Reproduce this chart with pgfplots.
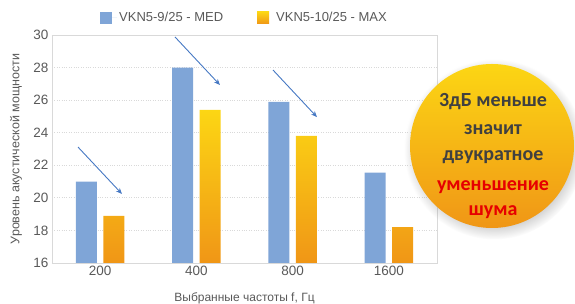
\documentclass[border=0pt]{standalone}
\usepackage{pgfplots}
\pgfplotsset{compat=1.18}
\usepackage{fontspec}
\setmainfont{Liberation Sans}
\newfontfamily\carlito{Carlito}
\usetikzlibrary{shadows,arrows.meta}
\definecolor{barblue}{RGB}{127,165,215}
\definecolor{ytop}{RGB}{252,214,20}
\definecolor{ybot}{RGB}{240,150,22}
\definecolor{arrowblue}{RGB}{70,120,195}
\definecolor{txtgray}{RGB}{89,89,89}
\definecolor{gridgray}{RGB}{217,217,217}
\definecolor{circtxt}{RGB}{64,64,64}
\definecolor{circred}{RGB}{230,0,0}
\begin{document}
\begin{tikzpicture}
\useasboundingbox (-52pt,-41pt) rectangle (523pt,263pt);
\begin{axis}[
  at={(0pt,0pt)}, anchor=south west,
  scale only axis, width=385pt, height=228pt,
  ybar=6.5pt, bar width=21pt,
  xmin=-0.5, xmax=3.5, ymin=0, ymax=14,
  y filter/.expression={y-16},
  xtick={0,1,2,3}, xticklabels={200,400,800,1600},
  ytick={0,2,...,14}, yticklabels={16,18,20,22,24,26,28,30},
  major tick length=0pt,
  ymajorgrids, grid style={gridgray, dotted, line width=0.8pt},
  axis line style={gridgray},
  tick label style={font=\fontsize{13.5}{15}\selectfont, text=txtgray},
  /pgf/number format/assume math mode=true,
  xlabel={Выбранные частоты f, Гц},
  ylabel={Уровень акустической мощности},
  xlabel style={at={(axis description cs:0.5,-0.154)}, anchor=center, font=\fontsize{12}{14}\selectfont, text=txtgray},
  ylabel style={at={(axis description cs:-0.0935,0.5)}, anchor=center, font=\fontsize{12.5}{14}\selectfont, text=txtgray},
  legend style={at={(axis description cs:0.5,1.0746)}, anchor=center, draw=none, fill=none,
    font=\fontsize{13}{15}\selectfont, text=txtgray, legend columns=2,
    /tikz/every even column/.append style={column sep=32pt}},
  legend image code/.code={\path[#1, draw=none] (0pt,-6pt) rectangle (12pt,6pt);\path (0pt,0pt) -- (17pt,0pt);},
  clip=false,
]
\addplot[fill=barblue, draw=none] coordinates {(0,21) (1,28) (2,25.9) (3,21.55)};
\addlegendentry{VKN5-9/25 - MED}
\addplot[draw=none, top color=ytop, bottom color=ybot] coordinates {(0,18.9) (1,25.4) (2,23.8) (3,18.2)};
\addlegendentry{VKN5-10/25 - MAX}
\draw[arrowblue, line width=0.9pt, -{Stealth[length=6pt,width=5pt]}] (axis cs:-0.23,7.12) -- (axis cs:0.227,4.24);
\draw[arrowblue, line width=0.9pt, -{Stealth[length=6pt,width=5pt]}] (axis cs:0.778,13.88) -- (axis cs:1.245,10.93);
\draw[arrowblue, line width=0.9pt, -{Stealth[length=6pt,width=5pt]}] (axis cs:1.796,11.85) -- (axis cs:2.253,8.96);
\end{axis}
\path[top color=ytop, bottom color=ybot, circular drop shadow={shadow xshift=2pt, shadow yshift=-3pt, opacity=0.35}] (440pt,117pt) circle (82pt);
\begin{scope}[every node/.style={anchor=center, font=\carlito\bfseries\fontsize{20}{24}\selectfont}]
\node[text=circtxt] at (441pt,161pt) {3дБ меньше};
\node[text=circtxt] at (441pt,133pt) {значит};
\node[text=circtxt] at (441pt,106pt) {двукратное};
\node[text=circred] at (441pt,76pt) {уменьшение};
\node[text=circred] at (441pt,51pt) {шума};
\end{scope}
\end{tikzpicture}
\end{document}
